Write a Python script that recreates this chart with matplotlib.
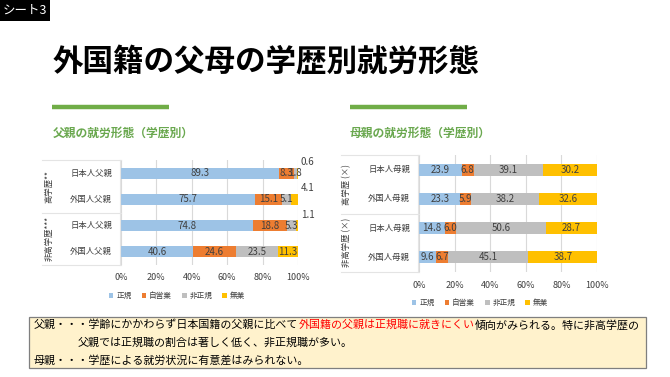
import matplotlib
matplotlib.use("Agg")
import matplotlib.pyplot as plt
from matplotlib.patches import Rectangle
from matplotlib.lines import Line2D

plt.rcParams['font.family'] = ['Noto Sans CJK JP', 'DejaVu Sans']

# ---------------- data ----------------
series_names = ['正規', '自営業', '非正規', '無業']
series_colors = ['#9DC3E6', '#ED7D31', '#BFBFBF', '#FFC000']
xticks = [0, 20, 40, 60, 80, 100]
xtick_labels = ['0%', '20%', '40%', '60%', '80%', '100%']

father_title = '父親の就労形態（学歴別）'
father_cats = ['日本人父親', '外国人父親', '日本人父親', '外国人父親']
father_groups = ['高学歴**', '非高学歴***']
father_regular = [89.3, 75.7, 74.8, 40.6]
father_self = [8.3, 15.1, 18.8, 24.6]
father_nonreg = [1.8, 5.1, 5.3, 23.5]
father_none = [0.6, 4.1, 1.1, 11.3]

mother_title = '母親の就労形態（学歴別）'
mother_cats = ['日本人母親', '外国人母親', '日本人母親', '外国人母親']
mother_groups = ['高学歴 (×)', '非高学歴 (×)']
mother_regular = [23.9, 23.3, 14.8, 9.6]
mother_self = [6.8, 5.9, 6.0, 6.7]
mother_nonreg = [39.1, 38.2, 50.6, 45.1]
mother_none = [30.2, 32.6, 28.7, 38.7]

main_title = '外国籍の父母の学歴別就労形態'
sheet_label = 'シート3'
note_line1 = ['父親・・・学齢にかかわらず日本国籍の父親に比べて', '外国籍の父親は正規職に就きにくい', '傾向がみられる。特に非高学歴の']
note_line2 = '父親では正規職の割合は著しく低く、非正規職が多い。'
note_line3 = '母親・・・学歴による就労状況に有意差はみられない。'

# ---------------- figure ----------------
W, H = 670, 377
fig = plt.figure(figsize=(W / 100, H / 100), dpi=100)
fig.patch.set_facecolor('white')


def fx(px):
    return px / W


def fy(py):
    return 1 - py / H


# sheet tag
fig.patches.append(Rectangle((0, fy(21)), fx(50), 21 / H, transform=fig.transFigure,
                             facecolor='black', edgecolor='none'))
fig.text(fx(25), fy(10.5), sheet_label, color='white', fontsize=9, ha='center', va='center')

# main title
fig.text(fx(53), fy(63), main_title, fontsize=22, fontweight='bold', color='black',
         ha='left', va='center')

# green rules
for x0, x1 in [(52, 169), (350, 467)]:
    fig.add_artist(Line2D([fx(x0), fx(x1)], [fy(107), fy(107)], transform=fig.transFigure,
                          color='#70AD47', lw=3.2, solid_capstyle='butt'))

GREEN = '#6AA84F'
TXT = '#404040'
PANEL = '#D9D9D9'


def draw_chart(left_px, right_px, top_px, bot_px, panel_left, label_right, group_x,
               cats, groups, vals, title, title_x, title_y, legend_cx, legend_y, tick_y):
    ax = fig.add_axes([fx(left_px), fy(bot_px), fx(right_px - left_px), (bot_px - top_px) / H])
    n = len(cats)
    ys = list(range(n))
    lefts = [0.0] * n
    for si, (name, col, v) in enumerate(zip(series_names, series_colors, vals)):
        ax.barh(ys, v, left=lefts, height=0.41, color=col, label=name, zorder=3)
        for i in range(n):
            val = v[i]
            if val < 5 and si == 3:
                ax.text(105.5, i - 0.42, f'{val:.1f}', fontsize=7, color=TXT,
                        ha='center', va='center', zorder=5, clip_on=False)
            else:
                ax.text(lefts[i] + val / 2, i, f'{val:.1f}', fontsize=7, color=TXT,
                        ha='center', va='center', zorder=5)
            lefts[i] += val
    ax.set_xlim(0, 100)
    ax.set_ylim(n - 0.5, -0.5)
    ax.set_xticks(xticks)
    ax.set_xticklabels([])
    ax.set_yticks([])
    ax.tick_params(length=0)
    ax.grid(axis='x', color=PANEL, lw=0.8, zorder=0)
    for s in ax.spines.values():
        s.set_visible(False)
    for t, lab in zip(xticks, xtick_labels):
        fig.text(fx(left_px + (right_px - left_px) * t / 100), fy(tick_y), lab,
                 fontsize=6.5, color=TXT, ha='center', va='center')
    # category labels
    row_h = (bot_px - top_px) / n
    for i, c in enumerate(cats):
        fig.text(fx(label_right), fy(top_px + row_h * (i + 0.5)), c, fontsize=6, color=TXT,
                 ha='right', va='center')
    # label panel lines
    mid_px = (top_px + bot_px) / 2
    for yy in [top_px, mid_px, bot_px]:
        fig.add_artist(Line2D([fx(panel_left), fx(left_px)], [fy(yy), fy(yy)],
                              transform=fig.transFigure, color='#E4E4E4', lw=0.8))
    fig.add_artist(Line2D([fx(left_px - 1), fx(left_px - 1)], [fy(top_px), fy(bot_px)],
                          transform=fig.transFigure, color='#E4E4E4', lw=0.8))
    # group labels
    for gi, g in enumerate(groups):
        cy = top_px + row_h * (2 * gi + 1)
        fig.text(fx(group_x), fy(cy), g, rotation=90, fontsize=6, color=TXT,
                 ha='center', va='center')
    # title
    fig.text(fx(title_x), fy(title_y), title, fontsize=8.5, fontweight='bold', color=GREEN,
             ha='left', va='center')
    # legend
    handles = [Rectangle((0, 0), 1, 1, facecolor=c, edgecolor='none') for c in series_colors]
    fig.legend(handles, series_names, loc='center', bbox_to_anchor=(fx(legend_cx), fy(legend_y)),
               ncol=4, frameon=False, fontsize=5.5, handlelength=0.6, handleheight=0.6,
               handletextpad=0.4, columnspacing=1.3, labelcolor=TXT)
    ax.set_facecolor('none')
    return ax


ax1 = draw_chart(121, 298, 160, 265, 42, 112, 49, father_cats, father_groups,
                 [father_regular, father_self, father_nonreg, father_none],
                 father_title, 53, 133, 177, 296, 277)
ax2 = draw_chart(419, 597, 155, 272, 341, 410, 347, mother_cats, mother_groups,
                 [mother_regular, mother_self, mother_nonreg, mother_none],
                 mother_title, 350, 133, 480, 303, 285)

# note box
fig.patches.append(Rectangle((fx(29), fy(368)), fx(646 - 29), (368 - 317) / H,
                             transform=fig.transFigure, facecolor='#FFF2CC',
                             edgecolor='#7F7F7F', lw=0.9))
NOTE_FS = 7.9
renderer = fig.canvas.get_renderer()
x = fx(34)
for part, col in zip(note_line1, ['black', '#FF0000', 'black']):
    t = fig.text(x, fy(325), part, fontsize=NOTE_FS, color=col, ha='left', va='center')
    bb = t.get_window_extent(renderer)
    x = bb.x1 / fig.bbox.width
fig.text(fx(78), fy(343), note_line2, fontsize=NOTE_FS, color='black', ha='left', va='center')
fig.text(fx(34), fy(360), note_line3, fontsize=NOTE_FS, color='black', ha='left', va='center')

fig.savefig('out.png', dpi=100)
